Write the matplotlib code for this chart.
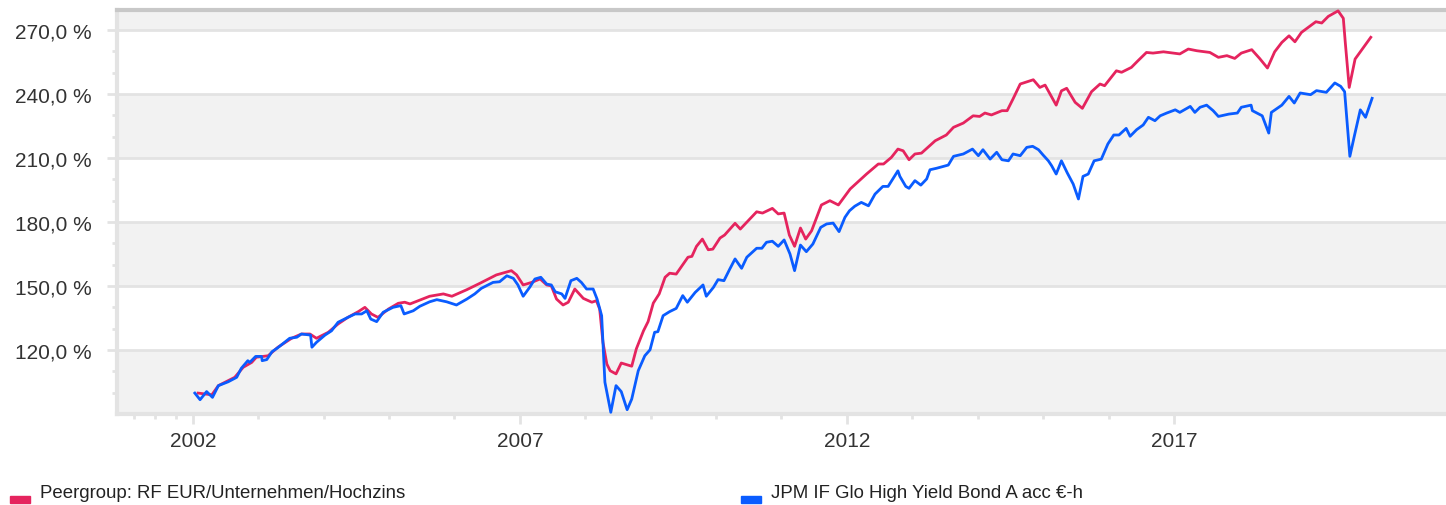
import matplotlib
matplotlib.use("Agg")
import matplotlib.pyplot as plt
from matplotlib.ticker import FixedLocator, FuncFormatter

# Daten (Jahr als Dezimalzahl, Wertentwicklung in %)
peer_x = [2002.08, 2002.29, 2002.39, 2002.64, 2002.77, 2002.90, 2002.97, 2003.15, 2003.30, 2003.51,
          2003.66, 2003.79, 2003.89, 2004.07, 2004.22, 2004.37, 2004.53, 2004.63, 2004.73, 2004.83,
          2004.99, 2005.14, 2005.24, 2005.32, 2005.62, 2005.83, 2005.96, 2006.19, 2006.39, 2006.64,
          2006.87, 2006.95, 2007.05, 2007.18, 2007.31, 2007.41, 2007.48, 2007.56, 2007.66, 2007.74,
          2007.84, 2007.97, 2008.10, 2008.17, 2008.22, 2008.27, 2008.33, 2008.38, 2008.47, 2008.55,
          2008.71, 2008.78, 2008.89, 2008.96, 2009.04, 2009.13, 2009.22, 2009.29, 2009.39, 2009.57,
          2009.63, 2009.70, 2009.79, 2009.88, 2009.95, 2010.06, 2010.13, 2010.29, 2010.37, 2010.62,
          2010.71, 2010.86, 2010.95, 2011.04, 2011.12, 2011.20, 2011.29, 2011.37, 2011.46, 2011.61,
          2011.74, 2011.87, 2012.05, 2012.30, 2012.48, 2012.56, 2012.68, 2012.78, 2012.86, 2012.95,
          2013.04, 2013.14, 2013.35, 2013.52, 2013.63, 2013.78, 2013.93, 2014.03, 2014.11, 2014.21,
          2014.37, 2014.45, 2014.54, 2014.65, 2014.85, 2014.95, 2015.03, 2015.20, 2015.28, 2015.36,
          2015.49, 2015.60, 2015.74, 2015.87, 2015.94, 2016.12, 2016.20, 2016.35, 2016.45, 2016.58,
          2016.68, 2016.84, 2017.09, 2017.22, 2017.35, 2017.55, 2017.68, 2017.81, 2017.93, 2018.03,
          2018.19, 2018.31, 2018.43, 2018.54, 2018.65, 2018.76, 2018.85, 2018.95, 2019.17, 2019.26,
          2019.36, 2019.51, 2019.59, 2019.62, 2019.68, 2019.77, 2019.90, 2020.01]
peer_y = [99.8, 99.0, 103.3, 107.2, 111.9, 114.2, 116.6, 117.3, 121.3, 125.5,
          127.5, 127.5, 125.5, 128.3, 132.2, 135.3, 138.0, 140.0, 136.9, 135.3,
          139.2, 141.9, 142.4, 141.6, 145.2, 146.3, 145.2, 148.3, 151.3, 155.2,
          157.2, 155.2, 150.5, 151.7, 153.3, 150.5, 150.1, 143.9, 141.1, 142.4,
          148.6, 144.2, 142.4, 143.1, 139.2, 123.6, 113.4, 110.3, 108.8, 113.9,
          112.4, 120.5, 129.0, 133.3, 142.0, 146.3, 154.1, 156.0, 155.6, 163.5,
          163.9, 168.6, 172.0, 167.0, 167.3, 172.5, 173.9, 179.4, 176.7, 184.8,
          184.2, 186.4, 183.8, 184.2, 173.9, 168.6, 177.2, 172.0, 175.9, 188.0,
          190.0, 188.0, 195.5, 202.5, 207.2, 207.2, 210.3, 214.2, 213.4, 209.2,
          211.9, 212.3, 218.1, 220.8, 224.4, 226.4, 229.8, 229.5, 231.1, 230.2,
          232.2, 232.2, 237.7, 244.7, 246.7, 243.1, 244.2, 234.8, 241.5, 242.7,
          236.1, 233.3, 241.1, 244.7, 243.9, 250.9, 250.2, 252.5, 255.6, 259.5,
          259.2, 259.8, 258.8, 261.1, 260.3, 259.5, 257.2, 258.0, 256.7, 259.2,
          260.8, 256.7, 252.2, 259.8, 264.2, 267.3, 264.5, 268.9, 273.9, 273.3,
          276.4, 279.0, 275.5, 264.2, 243.1, 256.4, 261.9, 266.6]

fund_x = [2002.03, 2002.11, 2002.21, 2002.30, 2002.39, 2002.54, 2002.67, 2002.74, 2002.84, 2002.87,
          2002.96, 2003.05, 2003.06, 2003.13, 2003.21, 2003.30, 2003.48, 2003.59, 2003.66, 2003.80,
          2003.82, 2003.89, 2004.02, 2004.12, 2004.22, 2004.37, 2004.48, 2004.58, 2004.66, 2004.72,
          2004.81, 2004.91, 2004.99, 2005.06, 2005.18, 2005.23, 2005.37, 2005.47, 2005.62, 2005.73,
          2005.88, 2006.03, 2006.19, 2006.31, 2006.41, 2006.59, 2006.69, 2006.80, 2006.90, 2006.97,
          2007.05, 2007.15, 2007.23, 2007.32, 2007.41, 2007.48, 2007.54, 2007.64, 2007.69, 2007.78,
          2007.87, 2007.94, 2008.02, 2008.12, 2008.18, 2008.25, 2008.28, 2008.30, 2008.39, 2008.47,
          2008.55, 2008.64, 2008.71, 2008.81, 2008.91, 2008.99, 2009.06, 2009.11, 2009.19, 2009.29,
          2009.39, 2009.49, 2009.56, 2009.68, 2009.80, 2009.85, 2009.96, 2010.03, 2010.12, 2010.21,
          2010.29, 2010.39, 2010.47, 2010.62, 2010.70, 2010.77, 2010.86, 2010.95, 2011.04, 2011.13,
          2011.20, 2011.29, 2011.38, 2011.48, 2011.60, 2011.69, 2011.79, 2011.88, 2011.97, 2012.04,
          2012.12, 2012.22, 2012.33, 2012.43, 2012.55, 2012.63, 2012.78, 2012.81, 2012.90, 2012.95,
          2013.04, 2013.13, 2013.22, 2013.27, 2013.37, 2013.55, 2013.63, 2013.78, 2013.92, 2014.01,
          2014.08, 2014.19, 2014.29, 2014.37, 2014.47, 2014.54, 2014.65, 2014.75, 2014.84, 2014.93,
          2015.00, 2015.08, 2015.13, 2015.20, 2015.28, 2015.37, 2015.46, 2015.54, 2015.61, 2015.69,
          2015.78, 2015.89, 2015.99, 2016.08, 2016.16, 2016.27, 2016.33, 2016.43, 2016.53, 2016.61,
          2016.71, 2016.79, 2016.89, 2017.02, 2017.09, 2017.25, 2017.32, 2017.40, 2017.50, 2017.60,
          2017.68, 2017.84, 2017.97, 2018.03, 2018.18, 2018.20, 2018.35, 2018.45, 2018.49, 2018.58,
          2018.65, 2018.76, 2018.84, 2018.93, 2019.09, 2019.18, 2019.33, 2019.46, 2019.55, 2019.61,
          2019.69, 2019.76, 2019.85, 2019.93, 2020.03]
fund_y = [99.8, 96.7, 100.5, 97.8, 103.3, 105.1, 107.2, 111.4, 115.0, 114.2,
          117.0, 117.0, 115.0, 115.5, 119.2, 121.1, 125.5, 126.0, 127.5, 127.0,
          121.3, 123.6, 127.0, 129.0, 133.0, 135.3, 136.9, 136.9, 138.4, 134.5,
          133.3, 137.7, 138.9, 140.0, 140.8, 136.9, 138.4, 140.5, 142.6, 143.6,
          142.6, 141.1, 143.9, 146.3, 148.9, 151.7, 152.0, 154.8, 153.6, 150.5,
          145.2, 149.4, 153.3, 154.1, 150.9, 150.5, 147.3, 146.3, 144.2, 152.5,
          153.6, 151.7, 148.6, 148.6, 143.9, 136.1, 117.3, 104.9, 90.8, 103.3,
          100.5, 92.0, 97.0, 110.3, 117.3, 120.1, 128.3, 128.6, 136.1, 138.0,
          139.5, 145.5, 142.4, 147.0, 150.5, 145.2, 149.4, 153.0, 152.5, 158.0,
          162.7, 158.3, 163.5, 167.7, 167.7, 170.5, 171.0, 168.6, 171.6, 165.0,
          157.2, 169.2, 166.1, 169.7, 177.5, 179.1, 179.5, 175.5, 182.2, 185.3,
          187.4, 189.2, 187.6, 193.1, 196.7, 196.7, 204.0, 201.4, 196.7, 195.8,
          199.4, 197.3, 200.2, 204.5, 205.2, 206.7, 210.8, 211.9, 214.2, 211.1,
          213.9, 209.5, 212.7, 209.2, 208.7, 211.9, 211.1, 215.0, 215.5, 213.9,
          211.4, 208.7, 206.4, 202.5, 208.7, 203.0, 197.8, 190.8, 201.4, 202.5,
          208.7, 209.5, 216.6, 220.8, 220.8, 223.9, 220.2, 223.3, 225.5, 229.1,
          227.5, 229.8, 231.1, 232.6, 231.4, 234.2, 231.4, 233.8, 234.8, 232.2,
          229.5, 230.6, 231.1, 233.8, 234.8, 232.2, 229.8, 221.7, 231.4, 233.3,
          234.8, 238.9, 235.8, 240.5, 239.7, 241.6, 240.8, 245.2, 243.6, 241.1,
          210.8, 220.5, 232.6, 229.1, 238.0]

peer_label = "Peergroup: RF EUR/Unternehmen/Hochzins"
fund_label = "JPM IF Glo High Yield Bond A acc €-h"
major_years = [2002, 2007, 2012, 2017]
minor_years = [2001.1, 2001.42, 2001.74] + [y for y in range(2003, 2017) if y not in major_years]
y_ticks = [120, 150, 180, 210, 240, 270]

red = "#e5245e"
blue = "#0a5cff"
grid = "#e3e3e3"
band = "#f2f2f2"

plt.rcParams["font.family"] = ["Liberation Sans", "DejaVu Sans"]

fig = plt.figure(figsize=(14.46, 5.06), dpi=100)
ax = fig.add_axes([117 / 1446, 1 - 415 / 506, 1 - 117 / 1446, (415 - 11) / 506])

ymin, ymax = 90, 279.4
ax.set_ylim(ymin, ymax)
ax.set_xlim(2000.84, 2021.16)

# abwechselnde Hintergrundbaender
edges = [ymin] + y_ticks + [ymax]
for i in range(len(edges) - 1):
    if i % 2 == 0:
        ax.axhspan(edges[i], edges[i + 1], color=band, lw=0, zorder=0)
for t in y_ticks:
    ax.axhline(t, color=grid, lw=2, zorder=1)

ax.plot(peer_x, peer_y, color=red, lw=2, zorder=3, clip_on=False)
ax.plot(fund_x, fund_y, color=blue, lw=2, zorder=4)

ax.set_yticks(y_ticks)
ax.yaxis.set_minor_locator(FixedLocator([100, 110, 130, 140, 160, 170, 190, 200, 220, 230, 250, 260]))
ax.yaxis.set_major_formatter(FuncFormatter(lambda v, p: f"{v:.1f}".replace(".", ",") + " %"))
ax.set_xticks(major_years)
ax.set_xticklabels([str(y) for y in major_years])
ax.xaxis.set_minor_locator(FixedLocator(minor_years))

ax.tick_params(axis="both", which="major", length=7.5, width=2, color=grid,
               labelsize=15, labelcolor="#333333")
ax.tick_params(axis="both", which="minor", length=3.6, width=2, color=grid)
ax.tick_params(axis="y", which="major", pad=11)
ax.tick_params(axis="x", which="major", pad=5)

for s in ["left", "bottom"]:
    ax.spines[s].set_color(grid)
    ax.spines[s].set_linewidth(3)
ax.spines["right"].set_visible(False)
ax.spines["top"].set_color("#c8c8c8")
ax.spines["top"].set_linewidth(3)

# Legende unten
fig.patches.append(plt.Rectangle((10 / 1446, 1 - 504 / 506), 20 / 1446, 7 / 506,
                                 transform=fig.transFigure, color=red))
fig.text(40 / 1446, 1 - 494 / 506, peer_label, fontsize=13.4, color="#222222", va="center")
fig.patches.append(plt.Rectangle((741 / 1446, 1 - 504 / 506), 20 / 1446, 7 / 506,
                                 transform=fig.transFigure, color=blue))
fig.text(771 / 1446, 1 - 494 / 506, fund_label, fontsize=13.4, color="#222222", va="center")

fig.savefig("out.png", dpi=100)
